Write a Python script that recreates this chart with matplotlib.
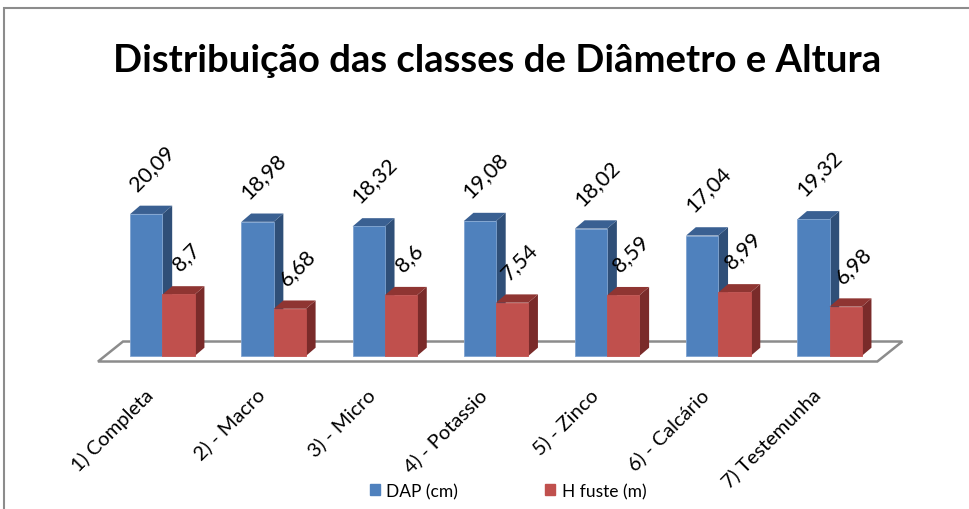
import numpy as np
import matplotlib.pyplot as plt
from matplotlib.patches import Polygon, Rectangle, Patch

categories = ['1) Completa', '2) - Macro', '3) - Micro', '4) - Potassio',
              '5) - Zinco', '6) - Calcário', '7) Testemunha']
dap = [20.09, 18.98, 18.32, 19.08, 18.02, 17.04, 19.32]
h_fuste = [8.7, 6.68, 8.6, 7.54, 8.59, 8.99, 6.98]
series_names = ['DAP (cm)', 'H fuste (m)']

# front / side / top colours for the fake 3d bars
blue = ('#4F81BD', '#2F4F78', '#3A6092')
red = ('#C0504D', '#7A2B2A', '#8F3532')

plt.rcParams['font.family'] = ['Lato', 'DejaVu Sans']

fig = plt.figure(figsize=(9.7, 5.1), dpi=100)
ax = fig.add_axes([90/970, 140/510, 820/970, 220/510])
ax.set_xlim(-0.652, 6.724)
ax.set_ylim(-1.84, 29.28)
ax.axis('off')

# depth of the 3d effect, in pixels -> data units
px_x = 820 / (6.724 + 0.652)
px_y = 220 / (29.28 + 1.84)
dx = 9.7 / px_x
dy = 8.3 / px_y
w = 0.29

x = np.arange(len(categories))

# floor
n = len(categories)
fl, fr = -0.58, n - 1 + 0.43
fdx, fdy = 25 / px_x, 20 / px_y
fy = -0.78
floor = Polygon([(fl, fy), (fr, fy), (fr + fdx, fy + fdy), (fl + fdx, fy + fdy)],
                closed=True, facecolor='white', edgecolor='#8C8C8C', lw=1.8, zorder=1)
ax.add_patch(floor)


def bar3d(x0, h, cols, z):
    front, side, top = cols
    ax.add_patch(Polygon([(x0 + w, 0), (x0 + w + dx, dy), (x0 + w + dx, h + dy), (x0 + w, h)],
                         closed=True, facecolor=side, lw=0, zorder=z))
    ax.add_patch(Polygon([(x0, h), (x0 + dx, h + dy), (x0 + w + dx, h + dy), (x0 + w, h)],
                         closed=True, facecolor=top, lw=0, zorder=z))
    ax.add_patch(Rectangle((x0, 0), w, h, facecolor=front, edgecolor='#7FA3D0' if cols == blue else front,
                           lw=0.6, zorder=z + 0.5))


def fmt(v):
    return f"{v:g}".replace('.', ',')


for i in x:
    z = 2 + i * 2
    bar3d(i - w, dap[i], blue, z)
    bar3d(i, h_fuste[i], red, z + 1)
    ax.annotate(fmt(dap[i]), (i - w / 2 + dx / 2, dap[i] + dy), xytext=(1, 12),
                textcoords='offset pixels', rotation=45, ha='center', va='bottom',
                fontsize=15.5, zorder=30)
    ax.annotate(fmt(h_fuste[i]), (i + w / 2 + dx / 2, h_fuste[i] + dy), xytext=(3, 12),
                textcoords='offset pixels', rotation=45, ha='center', va='bottom',
                fontsize=15.5, zorder=30)
    ax.annotate(categories[i], (i, 0), xytext=(-6, -29), textcoords='offset pixels',
                rotation=45, ha='right', va='top', fontsize=14.5)

fig.text(497/970, 1 - 72/510, 'Distribuição das classes de Diâmetro e Altura',
         ha='center', va='baseline', fontsize=27.5, fontweight='bold')

handles = [Patch(color=blue[0]), Patch(color=red[0])]
fig.legend(handles, series_names, loc='center', bbox_to_anchor=(508/970, 1 - 492/510),
           ncol=2, frameon=False, fontsize=12.5, handlelength=0.6, handleheight=0.6,
           handletextpad=0.35, columnspacing=5.0)

# chart frame; right and bottom edges fall outside the picture
fig.patches.append(Rectangle((4/970, -0.05), 1.05, 1.05 - 9/510, transform=fig.transFigure,
                             fill=False, edgecolor='#8C8C8C', lw=1.5))

fig.savefig('out.png', dpi=100)
